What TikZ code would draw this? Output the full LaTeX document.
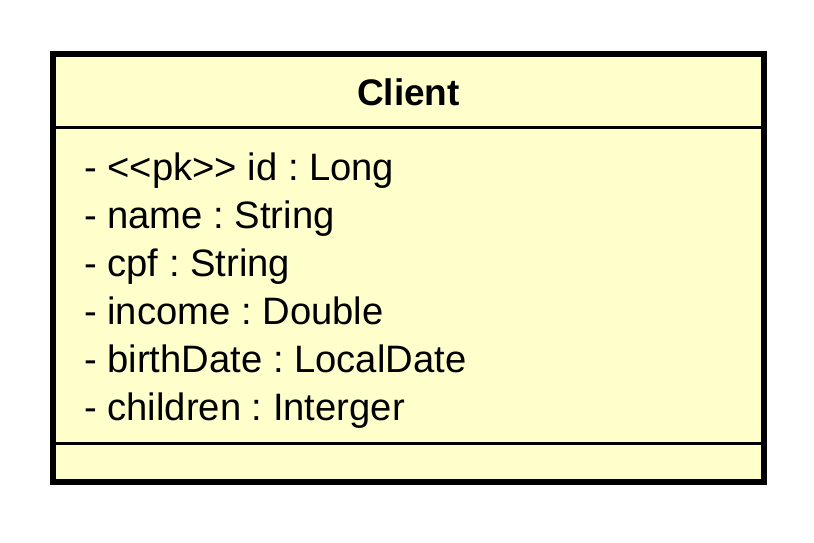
\documentclass[tikz,border=0pt]{standalone}
\usepackage{fontspec}
\setmainfont[Ligatures=NoCommon]{Liberation Sans}
\definecolor{classfill}{RGB}{255,255,204}
\frenchspacing
\begin{document}
\begin{tikzpicture}[x=1pt,y=-1pt,
  attr/.style={anchor=base west,inner sep=0pt,font=\fontsize{38.2}{44}\selectfont\frenchspacing},
  title/.style={anchor=base,inner sep=0pt,font=\fontsize{37}{44}\selectfont\bfseries}]
\useasboundingbox (0,0) rectangle (814,543);
\coordinate (tl) at (53,54);
\coordinate (br) at (764,481.5);
\draw[line width=6pt,fill=classfill] (tl) rectangle (br);
\coordinate (s1l) at (53,127);
\coordinate (s1r) at (764,127);
\coordinate (s2l) at (53,443);
\coordinate (s2r) at (764,443);
\draw[line width=3pt] (s1l) -- (s1r);
\draw[line width=3pt] (s2l) -- (s2r);
\node[title] (name) at (408.5,105) {Client};
\node[attr] (a1) at (84,180) {- {<}{<}pk{>}{>} id : Long};
\node[attr] (a2) at (84,228) {- name : String};
\node[attr] (a3) at (84,276) {- cpf : String};
\node[attr] (a4) at (84,324) {- income : Double};
\node[attr] (a5) at (84,372) {- birthDate : LocalDate};
\node[attr] (a6) at (84,420) {- children : Interger};
\end{tikzpicture}
\end{document}
